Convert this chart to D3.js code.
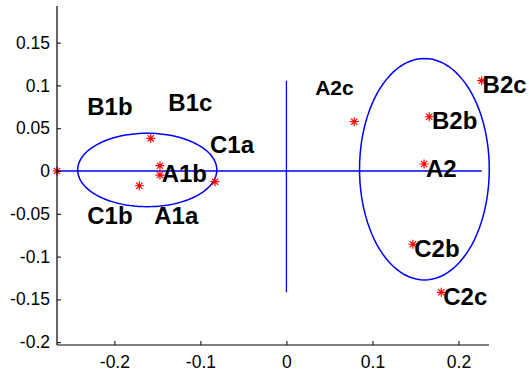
<!DOCTYPE html>
<html>
<head>
<meta charset="utf-8">
<script src="https://cdn.jsdelivr.net/npm/d3@7.9.0/dist/d3.min.js"></script>
<style>
  body { margin: 0; background: #fff; }
  svg { display: block; font-family: Arial, 'Liberation Sans', sans-serif; }
</style>
</head>
<body>
<svg width="529" height="374"></svg>
<script>
// score points (x, y)
const pointX = [-0.2667, -0.1578, -0.147, -0.147, -0.171, -0.083, 0.0788, 0.227, 0.166, 0.160, 0.147, 0.180];
const pointY = [0, 0.0382, 0.0062, -0.0047, -0.0172, -0.0125, 0.0576, 0.1055, 0.0634, 0.0082, -0.0856, -0.1417];

// text labels placed in data coordinates (left, baseline)
const labels = ['B1b', 'B1c', 'C1a', 'A1b', 'C1b', 'A1a', 'A2c', 'B2c', 'B2b', 'A2', 'C2b', 'C2c'];
const labelX = [-0.2315, -0.1373, -0.0888, -0.145, -0.2315, -0.1536, 0.0334, 0.228, 0.1692, 0.1622, 0.1486, 0.1823];
const labelY = [0.0654, 0.0704, 0.0207, -0.0125, -0.0623, -0.0623, 0.0888, 0.0908, 0.0487, -0.0067, -0.1008, -0.1565];

// group ellipses: centre x, centre y, radius x, radius y
const ellipseCx = [-0.1618, 0.1604];
const ellipseCy = [0.0012, 0.0021];
const ellipseRx = [0.0809, 0.0754];
const ellipseRy = [0.0429, 0.1294];

const xTicks = [-0.2, -0.1, 0, 0.1, 0.2];
const yTicks = [-0.2, -0.15, -0.1, -0.05, 0, 0.05, 0.1, 0.15];

const margin = { top: 6, right: 40, bottom: 29, left: 57 };
const width = 529 - margin.left - margin.right;
const height = 374 - margin.top - margin.bottom;

const svg = d3.select('svg');
const g = svg.append('g').attr('transform', `translate(${margin.left},${margin.top})`);

const x = d3.scaleLinear().domain([-0.2667, 0.2355]).range([0, width]);
const y = d3.scaleLinear().domain([-0.2033, 0.1928]).range([height, 0]);

// cross lines through the origin spanning the points
const [xmin, xmax] = d3.extent(pointX);
const [ymin, ymax] = d3.extent(pointY);
g.append('line')
  .attr('x1', x(xmin)).attr('x2', x(xmax))
  .attr('y1', y(0)).attr('y2', y(0))
  .attr('stroke', '#0000ff').attr('stroke-width', 1.3);
g.append('line')
  .attr('x1', x(0)).attr('x2', x(0))
  .attr('y1', y(ymin)).attr('y2', y(ymax))
  .attr('stroke', '#0000ff').attr('stroke-width', 1.3);

// ellipses
const line = d3.line().x((d) => x(d[0])).y((d) => y(d[1]));
ellipseCx.forEach((cx, i) => {
  const pts = d3.range(0, 101).map((k) => {
    const t = (k / 100) * 2 * Math.PI;
    return [cx + ellipseRx[i] * Math.cos(t), ellipseCy[i] + ellipseRy[i] * Math.sin(t)];
  });
  g.append('path')
    .attr('d', line(pts))
    .attr('fill', 'none')
    .attr('stroke', '#0000ff')
    .attr('stroke-width', 1.5);
});

// star markers
const s = 4.5;
const starPath = `M${-s},0H${s}M0,${-s}V${s}M${-s * 0.7},${-s * 0.7}L${s * 0.7},${s * 0.7}M${-s * 0.7},${s * 0.7}L${s * 0.7},${-s * 0.7}`;
pointX.forEach((px, i) => {
  g.append('path')
    .attr('transform', `translate(${x(px)},${y(pointY[i])})`)
    .attr('d', starPath)
    .attr('stroke', '#ff0000')
    .attr('stroke-width', 1.2)
    .attr('fill', 'none');
});

// labels
labels.forEach((t, i) => {
  g.append('text')
    .attr('x', x(labelX[i]))
    .attr('y', y(labelY[i]))
    .attr('font-weight', 'bold')
    .attr('font-size', t === 'A2c' ? 21 : 24)
    .attr('fill', '#000')
    .text(t);
});

// axes (ticks inward)
const fmt = (d) => String(+d.toFixed(2));
const xAxis = g.append('g')
  .attr('transform', `translate(0,${height})`)
  .call(d3.axisBottom(x).tickValues(xTicks).tickSize(-4).tickPadding(11).tickFormat(fmt));
const yAxis = g.append('g')
  .call(d3.axisLeft(y).tickValues(yTicks).tickSize(-4).tickPadding(7).tickFormat(fmt));

[xAxis, yAxis].forEach((a) => {
  a.select('.domain').attr('stroke', '#000').attr('stroke-width', 1.2);
  a.selectAll('.tick line').attr('stroke', '#000');
  a.selectAll('.tick text').attr('font-size', 17.5).attr('fill', '#000')
    .attr('font-family', 'Arial, Liberation Sans, sans-serif');
});
// only left and bottom lines, no outer tick ends
xAxis.select('.domain').attr('d', `M0,0H${width}`);
yAxis.select('.domain').attr('d', `M0,0V${height}`);
</script>
</body>
</html>
